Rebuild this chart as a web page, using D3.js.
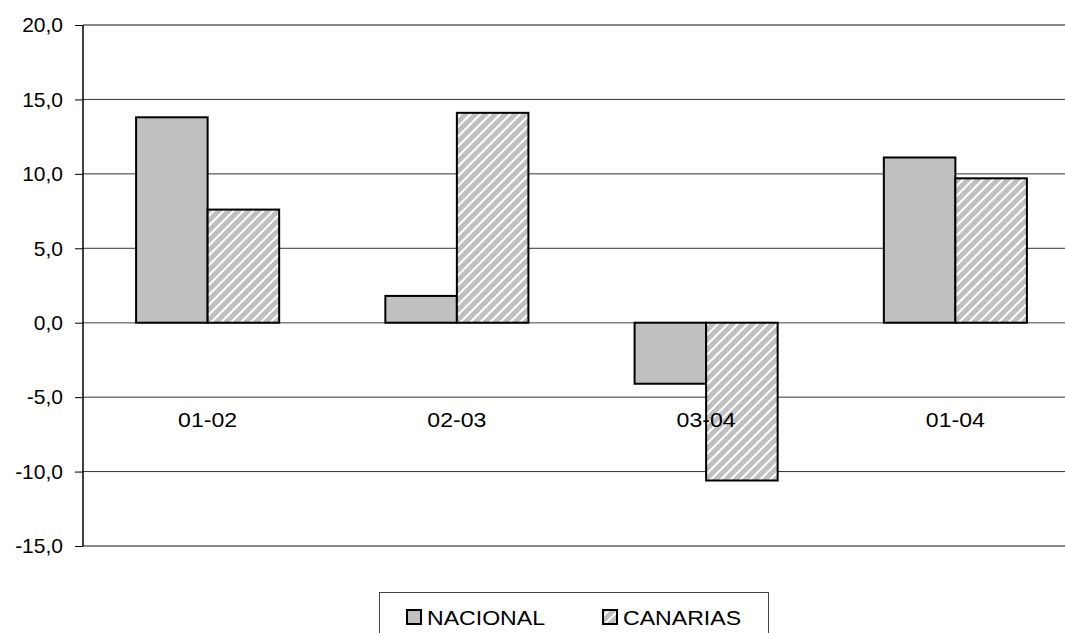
<!DOCTYPE html>
<html>
<head>
<meta charset="utf-8">
<script src="https://cdn.jsdelivr.net/npm/d3@7"></script>
<style>
  html, body { margin: 0; padding: 0; background: #fff; }
  svg { display: block; font-family: "Liberation Sans", Arial, sans-serif; }
</style>
</head>
<body>
<svg id="chart" width="1065" height="633"></svg>
<script>
const categories = ["01-02", "02-03", "03-04", "01-04"];
const seriesNames = ["NACIONAL", "CANARIAS"];
const nacional = [13.8, 1.8, -4.1, 11.1];
const canarias = [7.6, 14.1, -10.6, 9.7];
const yTicks = [-15, -10, -5, 0, 5, 10, 15, 20];

const svg = d3.select("#chart");
const W = 1065, H = 633;
const plot = { left: 83, right: 1080, top: 25, bottom: 546 };

const defs = svg.append("defs");
const pat = defs.append("pattern")
  .attr("id", "hatch")
  .attr("patternUnits", "userSpaceOnUse")
  .attr("width", 7).attr("height", 7)
  .attr("patternTransform", "rotate(45)");
pat.append("rect").attr("width", 7).attr("height", 7).attr("fill", "#c0c0c0");
pat.append("line").attr("x1", 1).attr("x2", 1).attr("y1", 0).attr("y2", 7)
  .attr("stroke", "#ffffff").attr("stroke-width", 2);

const y = d3.scaleLinear().domain([-15, 20]).range([plot.bottom, plot.top]);
const x0 = d3.scaleBand().domain(categories).range([plot.left, plot.right])
  .paddingInner(0.426).paddingOuter(0.213);
const x1 = d3.scaleBand().domain(seriesNames).range([0, x0.bandwidth()]);

const fills = { "NACIONAL": "#c0c0c0", "CANARIAS": "url(#hatch)" };

// gridlines
svg.append("g").selectAll("line")
  .data(yTicks.filter(t => t !== 0 && t !== 20 && t !== -15))
  .join("line")
  .attr("x1", plot.left).attr("x2", W)
  .attr("y1", d => y(d)).attr("y2", d => y(d))
  .attr("stroke", "#333").attr("stroke-width", 1);

// top & bottom plot border
svg.append("g").selectAll("line")
  .data([20, -15])
  .join("line")
  .attr("x1", plot.left).attr("x2", W)
  .attr("y1", d => y(d)).attr("y2", d => y(d))
  .attr("stroke", "#888").attr("stroke-width", 2);

// zero line
svg.append("line")
  .attr("x1", plot.left).attr("x2", W)
  .attr("y1", y(0)).attr("y2", y(0))
  .attr("stroke", "#808080").attr("stroke-width", 1.5);

// bars
const data = categories.map((c, i) => ({ cat: c, values: [
  { name: "NACIONAL", v: nacional[i] },
  { name: "CANARIAS", v: canarias[i] }
]}));

const groups = svg.append("g").selectAll("g")
  .data(data).join("g")
  .attr("transform", d => `translate(${x0(d.cat)},0)`);

groups.selectAll("rect")
  .data(d => d.values).join("rect")
  .attr("x", d => x1(d.name))
  .attr("width", x1.bandwidth())
  .attr("y", d => y(Math.max(0, d.v)))
  .attr("height", d => Math.abs(y(d.v) - y(0)))
  .attr("fill", d => fills[d.name])
  .attr("stroke", "#000").attr("stroke-width", 2);

// y axis
const yAxis = d3.axisLeft(y).tickValues(yTicks).tickSize(8)
  .tickFormat(d => d3.format(".1f")(d).replace(".", ",").replace("−", "-"));
const ya = svg.append("g").attr("transform", `translate(${plot.left},0)`).call(yAxis);
ya.select(".domain").attr("stroke", "#000").attr("stroke-width", 1.5)
  .attr("d", `M0,${plot.top}V${plot.bottom}`);
ya.selectAll(".tick line").attr("stroke", "#000");
ya.selectAll(".tick text").attr("font-size", 21).attr("fill", "#000")
  .attr("x", -20).attr("font-family", "Liberation Sans, Arial, sans-serif");

// category labels
svg.append("g").selectAll("text")
  .data(categories).join("text")
  .attr("transform", d => `translate(${x0(d) + x0.bandwidth() / 2},427) scale(1.1,1)`)
  .attr("text-anchor", "middle")
  .attr("font-size", 21)
  .text(d => d);

// legend
const lg = svg.append("g");
lg.append("rect").attr("x", 379.5).attr("y", 592.5).attr("width", 389).attr("height", 60)
  .attr("fill", "#fff").attr("stroke", "#444").attr("stroke-width", 1);
const legendX = [407, 603];
seriesNames.forEach((n, i) => {
  lg.append("rect").attr("x", legendX[i]).attr("y", 610).attr("width", 14).attr("height", 14)
    .attr("fill", fills[n]).attr("stroke", "#000").attr("stroke-width", 2);
  lg.append("text").attr("transform", `translate(${legendX[i] + 20},625) scale(1.1,1)`)
    .attr("font-size", 21).text(n);
});
</script>
</body>
</html>
